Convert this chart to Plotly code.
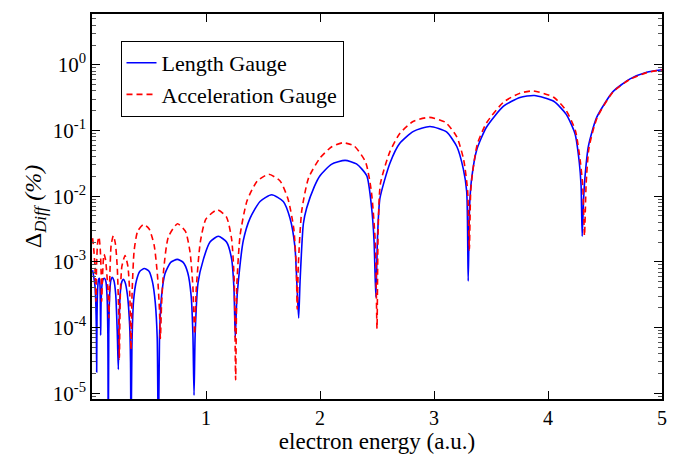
import plotly.graph_objects as go

# ---- data ----
length_x = [0.005, 0.015, 0.025, 0.033, 0.038, 0.041, 0.044, 0.05, 0.057, 0.064, 0.070, 0.073, 0.076,
            0.080, 0.090, 0.100, 0.111, 0.122, 0.132, 0.139, 0.143, 0.147, 0.155, 0.165, 0.178, 0.192,
            0.208, 0.222, 0.231, 0.238, 0.248, 0.262, 0.275, 0.290, 0.310, 0.330, 0.338, 0.342, 0.350,
            0.365, 0.39, 0.42, 0.459, 0.50, 0.53, 0.555, 0.572, 0.582, 0.592, 0.61, 0.64, 0.69, 0.748,
            0.80, 0.84, 0.87, 0.885, 0.895, 0.905, 0.93, 0.977, 1.035, 1.108, 1.18, 1.225, 1.245, 1.257,
            1.268, 1.283, 1.327, 1.386, 1.474, 1.576, 1.678, 1.737, 1.78, 1.80, 1.813, 1.825, 1.854,
            1.883, 1.95, 2.0, 2.1, 2.22, 2.32, 2.41, 2.453, 2.474, 2.49, 2.505, 2.526, 2.614, 2.70,
            2.82, 2.965, 3.11, 3.20, 3.257, 3.287, 3.30, 3.312, 3.33, 3.375, 3.46, 3.61, 3.754, 3.88,
            4.05, 4.16, 4.237, 4.275, 4.29, 4.30, 4.312, 4.325, 4.354, 4.427, 4.57, 4.72, 4.866, 5.0]
length_y = [7.5e-4, 6.0e-4, 4.5e-4, 2.5e-4, 1.0e-4, 2.1e-5, 1.5e-4, 4.0e-4, 5.4e-4, 5.6e-4, 4.5e-4, 2.5e-4, 7.6e-5,
            2.5e-4, 4.8e-4, 5.5e-4, 5.6e-4, 5.0e-4, 3.0e-4, 8.0e-5, 1e-6, 8e-5, 3.2e-4, 5.2e-4, 5.8e-4, 5.2e-4,
            3.2e-4, 8.0e-5, 2.3e-5, 1.2e-4, 3.4e-4, 5.0e-4, 5.4e-4, 4.9e-4, 3.2e-4, 1.1e-4, 3.0e-5, 1e-6, 5e-5,
            2.6e-4, 5.2e-4, 7.2e-4, 7.9e-4, 7.2e-4, 5.0e-4, 2.4e-4, 7e-5, 1e-6, 7e-5, 3.0e-4, 6.6e-4, 9.8e-4, 1.09e-3,
            9.8e-4, 6.8e-4, 3.0e-4, 8e-5, 9.3e-6, 8e-5, 4.8e-4, 1.09e-3, 2.0e-3, 2.45e-3, 2.0e-3, 1.1e-3, 4.0e-4, 7e-5,
            2.2e-4, 4.9e-4, 2.1e-3, 4.6e-3, 8.3e-3, 1.05e-2, 8.3e-3, 4.6e-3, 1.7e-3, 3.6e-4, 1.4e-4, 5e-4, 3.8e-3,
            6.6e-3, 1.4e-2, 2.05e-2, 3.05e-2, 3.5e-2, 3.1e-2, 2.05e-2, 6.6e-3, 2.1e-3, 2.9e-4, 2.5e-3, 9.3e-3, 3.2e-2, 6.4e-2,
            9.7e-2, 0.115, 0.095, 0.057, 0.026, 0.0117, 5.1e-4, 0.007, 0.0184, 0.051, 0.112, 0.234, 0.318, 0.34,
            0.278, 0.176, 0.089, 0.032, 0.0147, 2.45e-3, 0.009, 0.02, 0.057, 0.158, 0.39, 0.61, 0.77, 0.84]

accel_x = [0.005, 0.015, 0.025, 0.032, 0.035, 0.040, 0.050, 0.061, 0.072, 0.080, 0.085, 0.092, 0.105,
           0.118, 0.135, 0.145, 0.149, 0.155, 0.168, 0.187, 0.205, 0.222, 0.233, 0.240, 0.248, 0.262,
           0.29, 0.315, 0.332, 0.342, 0.352, 0.37, 0.40, 0.45, 0.50, 0.545, 0.575, 0.592, 0.60, 0.61,
           0.63, 0.67, 0.75, 0.82, 0.86, 0.885, 0.90, 0.915, 0.95, 1.0, 1.10, 1.18, 1.225, 1.248, 1.26,
           1.272, 1.30, 1.36, 1.45, 1.55, 1.65, 1.72, 1.77, 1.792, 1.80, 1.81, 1.84, 1.90, 2.0, 2.1,
           2.2, 2.30, 2.40, 2.45, 2.485, 2.50, 2.51, 2.53, 2.61, 2.70, 2.82, 2.96, 3.10, 3.20, 3.26,
           3.295, 3.31, 3.322, 3.34, 3.38, 3.46, 3.61, 3.754, 3.87, 4.05, 4.16, 4.24, 4.285, 4.305,
           4.32, 4.335, 4.36, 4.43, 4.57, 4.72, 4.866, 5.0]
accel_y = [2.3e-3, 1.6e-3, 9e-4, 4e-4, 2.5e-4, 9e-4, 2.0e-3, 2.4e-3, 1.6e-3, 7e-4, 2.5e-4, 6e-4, 1.3e-3,
           1.1e-3, 5e-4, 2.2e-4, 1.4e-4, 5e-4, 1.8e-3, 2.5e-3, 1.9e-3, 8e-4, 2.0e-4, 3.3e-5, 3.0e-4, 8.5e-4,
           1.25e-3, 8.5e-4, 3.0e-4, 4.6e-5, 3.5e-4, 1.5e-3, 2.9e-3, 3.7e-3, 3.2e-3, 1.8e-3, 6e-4, 1.8e-4, 6.8e-5, 2.2e-4,
           8e-4, 2.4e-3, 3.8e-3, 2.9e-3, 1.4e-3, 4.2e-4, 7.9e-5, 4e-4, 2.0e-3, 4.5e-3, 6.2e-3, 4.8e-3, 2.2e-3, 5e-4, 1.6e-5,
           5e-4, 2.6e-3, 8.5e-3, 1.7e-2, 2.15e-2, 1.7e-2, 9e-3, 3.2e-3, 8e-4, 1.9e-4, 9e-4, 6e-3, 1.9e-2, 3.8e-2, 5.6e-2,
           6.5e-2, 5.8e-2, 3.3e-2, 1.2e-2, 2.0e-3, 9.6e-5, 3e-3, 1.55e-2, 4.6e-2, 9e-2, 0.138, 0.158, 0.133, 0.08, 0.036,
           0.012, 1.5e-3, 0.012, 0.024, 0.062, 0.13, 0.27, 0.37, 0.40, 0.32, 0.20, 0.10, 0.032, 0.014,
           2.5e-3, 0.016, 0.055, 0.155, 0.385, 0.60, 0.76, 0.84]

x_ticks = [1, 2, 3, 4, 5]
y_exponents = [-5, -4, -3, -2, -1, 0]

serif = "Times New Roman, Liberation Serif, DejaVu Serif, serif"

fig = go.Figure()
fig.add_trace(go.Scatter(x=length_x, y=length_y, mode="lines", name="Length Gauge",
                         line=dict(color="#0000ff", width=1.6, shape="spline", smoothing=0.6)))
fig.add_trace(go.Scatter(x=accel_x, y=accel_y, mode="lines", name="Acceleration Gauge",
                         line=dict(color="#ff0000", width=1.6, dash="6px,4px", shape="spline", smoothing=0.6)))

minor_vals = [m * 10.0 ** e for e in range(-6, 1) for m in range(2, 10)]

fig.update_layout(
    width=679, height=459,
    margin=dict(l=92, r=17, t=13, b=48),
    paper_bgcolor="white", plot_bgcolor="white",
    font=dict(family=serif, color="black", size=18),
    showlegend=True,
    legend=dict(x=0.05, y=0.93, xanchor="left", yanchor="top",
                bordercolor="black", borderwidth=1, bgcolor="white",
                font=dict(family=serif, size=22), tracegroupgap=0,
                itemwidth=30),
    xaxis=dict(range=[0, 5], tickvals=x_ticks, ticktext=[str(v) for v in x_ticks],
               ticks="inside", ticklen=8, tickwidth=1, tickcolor="black",
               showline=True, linecolor="black", linewidth=1.5, mirror="ticks",
               showgrid=False, zeroline=False,
               tickfont=dict(family=serif, size=20),
               title=dict(text="electron energy (a.u.)", font=dict(family=serif, size=23), standoff=2)),
    yaxis=dict(type="log", range=[-5.088, 0.773],
               tickvals=[10.0 ** e for e in y_exponents],
               ticktext=["10<sup>%d</sup>" % e for e in y_exponents],
               ticks="inside", ticklen=8, tickwidth=1, tickcolor="black",
               minor=dict(tickvals=minor_vals, ticks="inside", ticklen=4, tickcolor="#555555", tickwidth=1),
               showline=True, linecolor="black", linewidth=1.5, mirror="ticks",
               showgrid=False, zeroline=False,
               tickfont=dict(family=serif, size=21),
               title=dict(text="Δ<sub><i>Diff</i></sub> <i>(%)</i>", font=dict(family=serif, size=24), standoff=4)),
)

fig.write_html("out.html")
